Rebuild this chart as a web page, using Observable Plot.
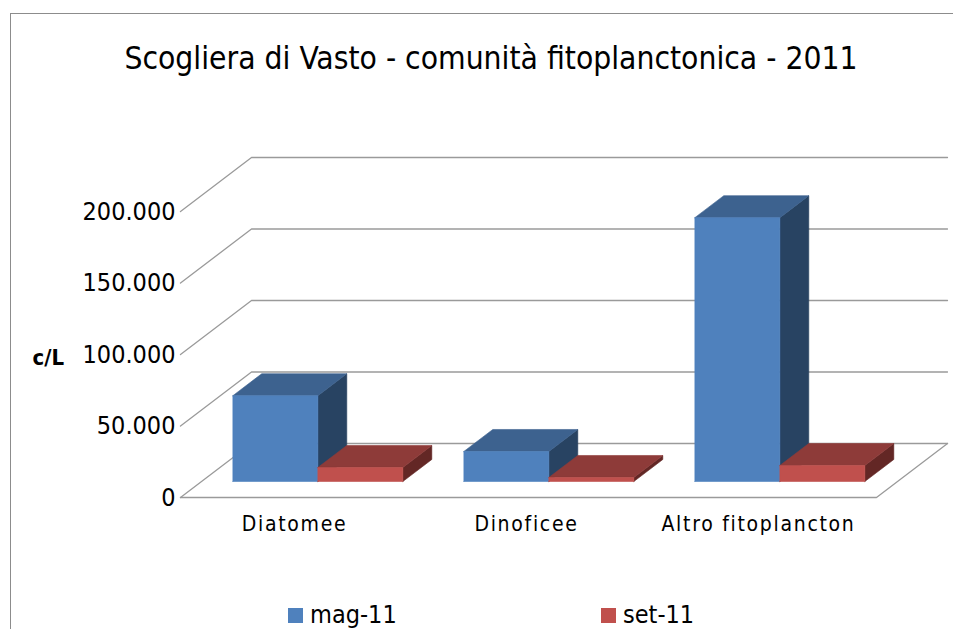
<!DOCTYPE html>
<html>
<head>
<meta charset="utf-8">
<script src="https://cdn.jsdelivr.net/npm/d3@7"></script>
<script src="https://cdn.jsdelivr.net/npm/@observablehq/plot@0.6"></script>
<style>
  html, body { margin: 0; padding: 0; background: #fff; overflow: hidden; }
  #page { position: relative; width: 953px; height: 629px; overflow: hidden; font-family: "DejaVu Sans", sans-serif; font-stretch: condensed; color: #000; }
  #frame { position: absolute; left: 10px; top: 13px; width: 1000px; height: 700px; border: 1px solid #8c8c8c; border-width: 1px 0 0 1px; box-sizing: border-box; pointer-events: none; }
  #title { height: 110px; box-sizing: border-box; padding-top: 38px; padding-left: 29px; text-align: center; font-size: 31.5px; line-height: 40px; white-space: nowrap; }
  #chart svg { display: block; }
  .key { position: absolute; top: 597px; font-size: 25px; line-height: 36px; display: flex; align-items: center; }
  .key i { display: inline-block; width: 15px; height: 15px; margin-right: 7px; }
</style>
</head>
<body>
<div id="page">
  <div id="frame"></div>
  <div id="title"></div>
  <div id="chart"></div>
</div>
<script>
const titleText = "Scogliera di Vasto - comunità fitoplanctonica - 2011";
const yLabel = "c/L";
const categories = ["Diatomee", "Dinoficee", "Altro fitoplancton"];
const seriesNames = ["mag-11", "set-11"];
const mag11 = [60000, 21000, 184500];
const set11 = [9800, 2800, 11200];
const yTicks = [0, 50000, 100000, 150000, 200000];
const faceColors = [
  {front: "#4f81bd", top: "#3d628f", side: "#284362"},
  {front: "#c0504d", top: "#8e3b39", side: "#632725"}
];

document.getElementById("title").textContent = titleText;

// Oblique projection: a point at depth d (0 = front plane, 1 = back wall)
// moves right and up by fixed amounts expressed in data units.
const depthX = 71 / 232;
const depthY = 54 / 71.5 * 50000;
const P = (x, y, d) => ({x: x + d * depthX, y: y + d * depthY});

const barW = 85 / 232;
const barNear = 16 / 54, barFar = 38 / 54;
const barStart = 0.135;
const catStep = 231 / 232;

const polys = [];
categories.forEach((c, i) => {
  [mag11, set11].forEach((series, s) => {
    const v = series[i], col = faceColors[s];
    const x0 = i * catStep + barStart + s * barW;
    const x1 = x0 + barW;
    const close = (pts) => [...pts, pts[0]];
    polys.push({fill: col.side, stroke: col.side, pts: close([P(x1,0,barNear), P(x1,0,barFar), P(x1,v,barFar), P(x1,v,barNear)])});
    polys.push({fill: col.top, stroke: col.top, pts: close([P(x0,v,barNear), P(x1,v,barNear), P(x1,v,barFar), P(x0,v,barFar)])});
    polys.push({fill: col.front, stroke: col.front, pts: close([P(x0,0,barNear), P(x1,0,barNear), P(x1,v,barNear), P(x0,v,barNear)])});
  });
});

const grid = "#9a9a9a";
const wallMarks = yTicks.map(t =>
  Plot.line([P(0,t,0), P(0,t,1), P(3,t,1)], {x:"x", y:"y", stroke:grid, strokeWidth:1.3})
);
const floorMark = Plot.line([P(0,0,0), P(3,0,0), P(3,0,1)], {x:"x", y:"y", stroke:grid, strokeWidth:1.3});

const fontFamily = '"DejaVu Sans", sans-serif';
const chart = Plot.plot({
  width: 953,
  height: 480,
  marginLeft: 180,
  marginRight: 77,
  marginTop: 101,
  marginBottom: 93,
  style: {background: "transparent", fontFamily, overflow: "visible", fontStretch: "condensed"},
  x: {domain: [0, 3]},
  y: {domain: [0, 200000]},
  marks: [
    ...wallMarks,
    floorMark,
    ...polys.map(p => Plot.line(p.pts, {x:"x", y:"y", fill:p.fill, stroke:p.stroke, strokeWidth:0.6})),
    Plot.axisY({ticks: yTicks, tickSize: 0, tickPadding: 5, label: null, fontSize: 25, fill:"#000", tickFormat: d => d3.format(",")(d).replace(/,/g, ".")}),
    Plot.axisX({ticks: [0.5, 1.5, 2.5], tickSize: 0, tickPadding: 19, label: null, fontSize: 21, fill:"#000", dx: -2, tickFormat: d => categories[d - 0.5]}),
    Plot.text([yLabel], {frameAnchor: "left", dx: -148, y: () => 97900, text: d => d, fontSize: 22, fontWeight: "bold", fill: "#000"})
  ]
});
document.getElementById("chart").appendChild(chart);
d3.select(chart).selectAll('[aria-label="x-axis tick label"] text').style("letter-spacing", "1.7px");

const page = document.getElementById("page");
[288, 601].forEach((left, s) => {
  const k = document.createElement("div");
  k.className = "key";
  k.style.left = left + "px";
  const sw = document.createElement("i");
  sw.style.background = faceColors[s].front;
  k.appendChild(sw);
  k.appendChild(document.createTextNode(seriesNames[s]));
  page.appendChild(k);
});
</script>
</body>
</html>
